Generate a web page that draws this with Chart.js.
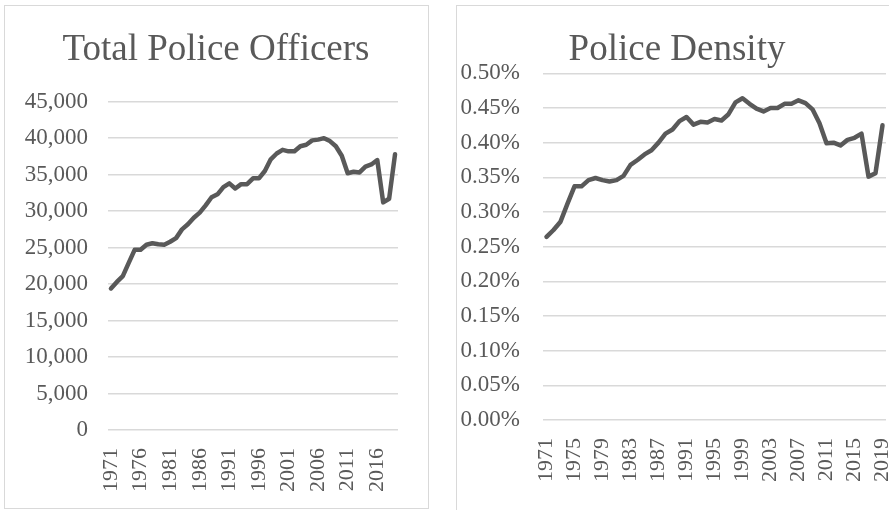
<!DOCTYPE html>
<html>
<head>
<meta charset="utf-8">
<script src="https://cdn.jsdelivr.net/npm/chart.js@4/dist/chart.umd.min.js"></script>
<style>
  html, body { margin: 0; padding: 0; background: #ffffff; width: 889px; height: 510px; overflow: hidden; position: relative; }
  .box { position: absolute; border: 1px solid #d9d9d9; box-sizing: border-box; background: #fff; }
  canvas { position: absolute; }
</style>
</head>
<body>
<div class="box" style="left:4px;top:5px;width:425px;height:504px;"></div>
<div class="box" style="left:456px;top:5px;width:460px;height:530px;"></div>
<canvas id="c1" width="422" height="501" style="left:5px;top:6px;"></canvas>
<canvas id="c2" width="438" height="503" style="left:458px;top:7px;"></canvas>
<script>
const years = [1971,1972,1973,1974,1975,1976,1977,1978,1979,1980,
  1981,1982,1983,1984,1985,1986,1987,1988,1989,1990,
  1991,1992,1993,1994,1995,1996,1997,1998,1999,2000,
  2001,2002,2003,2004,2005,2006,2007,2008,2009,2010,
  2011,2012,2013,2014,2015,2016,2017,2018,2019];

const totalOfficers = [19400,20300,21100,22900,24700,24700,25400,25600,25450,25400,
  25800,26300,27500,28200,29100,29800,30800,31900,32300,33300,
  33800,33100,33700,33700,34500,34500,35500,37100,37900,38400,
  38200,38200,38900,39100,39700,39800,40000,39600,38900,37600,
  35200,35400,35300,36100,36400,37000,31200,31700,37800];

// police density, in percent
const policeDensity = [0.264,0.274,0.286,0.312,0.337,0.337,0.346,0.349,0.346,0.344,
  0.346,0.352,0.368,0.375,0.383,0.389,0.400,0.413,0.419,0.431,
  0.437,0.426,0.430,0.429,0.434,0.432,0.441,0.458,0.464,0.456,
  0.449,0.445,0.450,0.450,0.456,0.456,0.461,0.457,0.448,0.428,
  0.399,0.400,0.396,0.404,0.407,0.413,0.351,0.356,0.425];

const titles = ['Total Police Officers', 'Police Density'];
const leftTickEvery = 5;
const rightTickEvery = 4;

Chart.defaults.font.family = "'Liberation Serif', 'Times New Roman', serif";
Chart.defaults.color = '#595959';

const TXT = '#595959';
const GRID = '#d9d9d9';
const LINE = '#595959';

function makeChart(id, title, data, opts) {
  return new Chart(document.getElementById(id), {
    type: 'line',
    data: {
      labels: years.map(String),
      datasets: [{
        data: data,
        borderColor: LINE,
        borderWidth: 4.5,
        pointRadius: 0,
        pointHoverRadius: 0,
        tension: 0,
        fill: false,
        borderCapStyle: 'round',
        borderJoinStyle: 'round'
      }]
    },
    options: {
      responsive: false,
      animation: false,
      devicePixelRatio: 1,
      layout: { padding: 0 },
      plugins: {
        legend: { display: false },
        tooltip: { enabled: false },
        title: {
          display: true,
          text: title,
          color: TXT,
          font: { size: 37, weight: 'normal', family: "'Liberation Serif', 'Times New Roman', serif" },
          padding: { top: opts.titleTop, bottom: opts.titleBottom }
        }
      },
      scales: {
        x: {
          type: 'category',
          offset: true,
          grid: { display: false, drawTicks: false },
          border: { display: false },
          ticks: {
            autoSkip: false,
            maxRotation: 90,
            minRotation: 90,
            padding: opts.xPad,
            color: TXT,
            font: { size: 22 },
            callback: function(v, i) { return i % opts.every === 0 ? this.getLabelForValue(v) : null; }
          },
          afterFit: function(s) {
            s.height = opts.xHeight;
            s.paddingLeft = 0;
            s.paddingRight = opts.padRight;
          }
        },
        y: {
          min: 0,
          max: opts.max,
          grid: { color: GRID, lineWidth: 1.5, drawTicks: false },
          border: { display: false },
          ticks: {
            stepSize: opts.step,
            padding: opts.yPad,
            color: TXT,
            font: { size: 23 },
            callback: opts.fmt
          },
          afterFit: function(s) { s.width = opts.yWidth; s.paddingTop = 0; s.paddingBottom = 0; }
        }
      }
    }
  });
}

makeChart('c1', titles[0], totalOfficers, {
  padRight: 29, titleTop: 22, titleBottom: 29.3, xPad: 18, xHeight: 77, every: leftTickEvery,
  max: 45000, step: 5000, yPad: 20, yWidth: 103,
  fmt: function(v) { return Math.round(v).toLocaleString('en-US'); }
});

makeChart('c2', titles[1], policeDensity, {
  padRight: 10, titleTop: 21, titleBottom: 0.9, xPad: 18, xHeight: 90, every: rightTickEvery,
  max: 0.5, step: 0.05, yPad: 23, yWidth: 85,
  fmt: function(v) { return v.toFixed(2) + '%'; }
});
</script>
</body>
</html>
